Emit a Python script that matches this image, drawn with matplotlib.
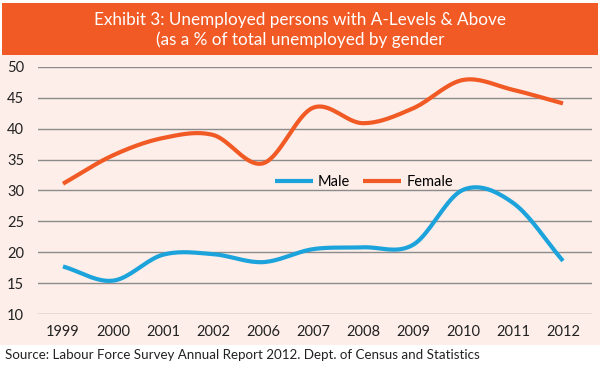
import numpy as np
import matplotlib
matplotlib.use("Agg")
from matplotlib import pyplot as plt
from matplotlib.patches import Rectangle

years = ["1999", "2000", "2001", "2002", "2006", "2007", "2008", "2009", "2010", "2011", "2012"]
male = [17.7, 15.4, 19.6, 19.7, 18.4, 20.5, 20.8, 21.2, 30.1, 28.0, 18.6]
female = [31.1, 35.7, 38.5, 39.0, 34.4, 43.4, 40.9, 43.3, 47.9, 46.3, 44.1]
yticks = [10, 15, 20, 25, 30, 35, 40, 45, 50]

ORANGE = "#F15A24"
BLUE = "#1CA3DC"
PINK = "#FDEEE9"

plt.rcParams["font.family"] = ["Lato", "DejaVu Sans"]


def smooth(x, y, n=20):
    # catmull-rom through the points, just for drawing
    x = np.asarray(x, float)
    y = np.asarray(y, float)
    px = np.concatenate([[2 * x[0] - x[1]], x, [2 * x[-1] - x[-2]]])
    py = np.concatenate([[2 * y[0] - y[1]], y, [2 * y[-1] - y[-2]]])
    xs, ys = [], []
    t = np.linspace(0, 1, n, endpoint=False)
    for i in range(1, len(px) - 2):
        for p, out in ((px, xs), (py, ys)):
            p0, p1, p2, p3 = p[i - 1], p[i], p[i + 1], p[i + 2]
            out.extend(0.5 * (2 * p1 + (-p0 + p2) * t
                              + (2 * p0 - 5 * p1 + 4 * p2 - p3) * t**2
                              + (-p0 + 3 * p1 - 3 * p2 + p3) * t**3))
    xs.append(x[-1])
    ys.append(y[-1])
    return np.array(xs), np.array(ys)


fig = plt.figure(figsize=(6, 3.68), dpi=100)
fig.patch.set_facecolor("white")

# backgrounds
fig.add_artist(Rectangle((0, 23 / 368), 1, (345 - 55) / 368, transform=fig.transFigure,
                         facecolor=PINK, edgecolor="none", zorder=0))
fig.add_artist(Rectangle((2 / 600, (368 - 55) / 368), 596 / 600, 52 / 368, transform=fig.transFigure,
                         facecolor=ORANGE, edgecolor="none", zorder=0))
fig.text(0.5, (368 - 20) / 368, "Exhibit 3: Unemployed persons with A-Levels & Above",
         ha="center", va="center", color="white", fontsize=12.3)
fig.text(0.5, (368 - 40) / 368, "(as a % of total unemployed by gender",
         ha="center", va="center", color="white", fontsize=12.3)
fig.text(5 / 600, (368 - 355) / 368, "Source: Labour Force Survey Annual Report 2012. Dept. of Census and Statistics",
         ha="left", va="center", color="#222222", fontsize=9.6)

ax = fig.add_axes([38 / 600, (368 - 314) / 368, 554 / 600, 247 / 368])
ax.set_facecolor("none")
x = np.arange(len(years))
mx, my = smooth(x, male)
fx, fy = smooth(x, female)
ax.plot(mx, my, color=BLUE, lw=3, label="Male", solid_capstyle="butt")
ax.plot(fx, fy, color=ORANGE, lw=3, label="Female", solid_capstyle="butt")

ax.set_xlim(-0.5, 10.58)
ax.set_ylim(10, 50)
ax.set_yticks(yticks)
ax.set_xticks(x)
ax.set_xticklabels(years)
ax.grid(axis="y", color="#8C8C8C", lw=1)
ax.set_axisbelow(True)
for s in ax.spines.values():
    s.set_visible(False)
ax.tick_params(length=0, labelsize=10.5, colors="#222222")
ax.tick_params(axis="x", pad=8)
ax.tick_params(axis="y", pad=10)

ax.legend(loc="center", bbox_to_anchor=(0.588, 0.535), ncol=2, frameon=False,
          fontsize=10.5, handlelength=2.6, columnspacing=0.9, handletextpad=0.35)

fig.savefig("out.png", dpi=100, facecolor="white")
